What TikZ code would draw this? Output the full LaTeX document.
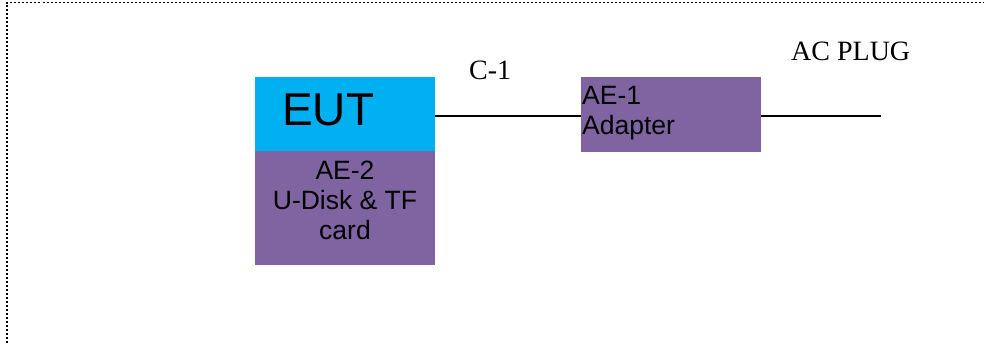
\documentclass[tikz,border=0pt]{standalone}
\usepackage{fontspec}
\setmainfont{Liberation Serif}
\setsansfont{Liberation Sans}
\definecolor{eutcyan}{HTML}{00B0F0}
\definecolor{aepurple}{HTML}{8064A2}
\begin{document}
\begin{tikzpicture}[x=1pt,y=-1pt,
  boxbase/.style={draw=none,inner sep=0pt,outer sep=0pt,rectangle},
  cyanbox/.style={boxbase,fill=eutcyan},
  purplebox/.style={boxbase,fill=aepurple},
  sanstext/.style={inner sep=0pt,font=\sffamily\fontsize{26.5}{30}\selectfont},
  serftext/.style={inner sep=0pt,font=\rmfamily\fontsize{28}{30}\selectfont},
  wire/.style={line width=1.8pt,black},
  dotframe/.style={line width=1.8pt,black,dash pattern=on 2pt off 2pt}
]
\useasboundingbox (0,0) rectangle (984,343);
% dotted frame
\draw[dotframe] (7,343) -- (7,2.5) -- (984,2.5);
% EUT box
\node[cyanbox,minimum width=180pt,minimum height=74pt] (eut) at (345,114) {};
\node[anchor=base west,inner sep=0pt,font=\sffamily\fontsize{46}{50}\selectfont] (euttext) at (282,125) {EUT};
% AE-2 box
\node[purplebox,minimum width=180pt,minimum height=114pt] (ae2) at (345,208) {};
\node[sanstext,anchor=base] (ae2a) at (345,179) {AE-2};
\node[sanstext,anchor=base] (ae2b) at (345,209) {U-Disk \& TF};
\node[sanstext,anchor=base] (ae2c) at (345,239) {card};
% AE-1 box
\node[purplebox,minimum width=180pt,minimum height=75pt] (ae1) at (671,114.5) {};
\node[sanstext,anchor=base west] (ae1a) at (582,104) {AE-1};
\node[sanstext,anchor=base west] (ae1b) at (582,134) {Adapter};
% labels
\node[serftext,anchor=base west] (c1) at (469,79) {C-1};
\node[serftext,anchor=base west] (acplug) at (791,60) {AC PLUG};
% wires
\coordinate (plug) at (881,116);
\draw[wire] ([yshift=-2pt]eut.east) -- ([yshift=-1.5pt]ae1.west);
\draw[wire] ([yshift=-1.5pt]ae1.east) -- (plug);
\end{tikzpicture}
\end{document}
